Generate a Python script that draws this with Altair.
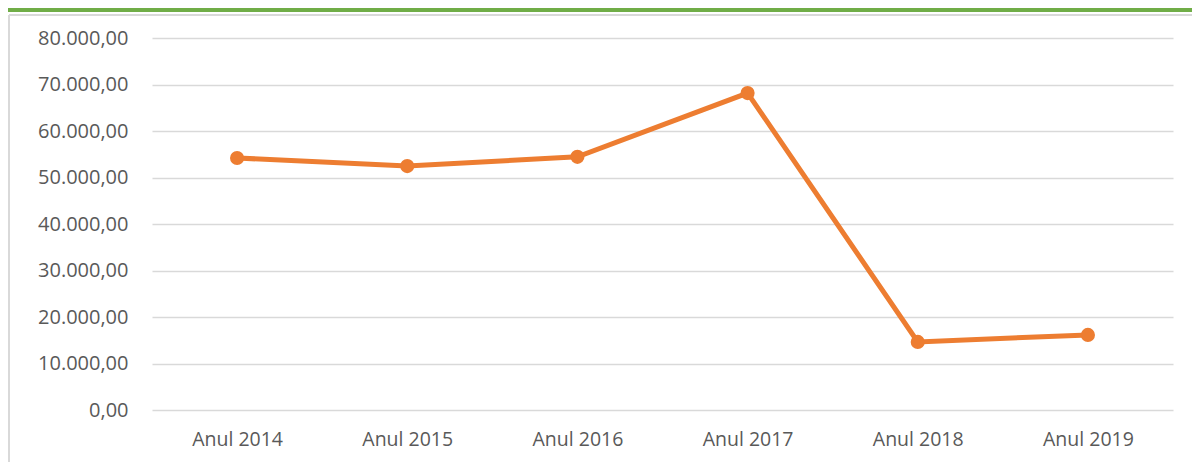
import altair as alt
import pandas as pd

years = ["Anul 2014", "Anul 2015", "Anul 2016", "Anul 2017", "Anul 2018", "Anul 2019"]
values = [54200, 52450, 54450, 68150, 14650, 16150]
y_ticks = [0, 10000, 20000, 30000, 40000, 50000, 60000, 70000, 80000]

df = pd.DataFrame({"an": years, "valoare": values})

FONT = "Open Sans"
LABEL_COLOR = "#595959"
ORANGE = "#ED7D31"

label_expr = ("replace(replace(replace(format(datum.value, ',.2f'), ',', '_'), '.', ','), '_', '.')")

base = alt.Chart(df).encode(
    x=alt.X("an:N", sort=years, title=None,
            scale=alt.Scale(type="point", padding=0.5),
            axis=alt.Axis(labelAngle=0, domain=False, ticks=False, grid=False,
                          labelPadding=20, labelFontSize=19.5, labelFont=FONT,
                          labelColor=LABEL_COLOR)),
    y=alt.Y("valoare:Q", title=None,
            scale=alt.Scale(domain=[0, 80000], nice=False),
            axis=alt.Axis(values=y_ticks, labelExpr=label_expr, domain=False, ticks=False,
                          grid=True, gridColor="#d9d9d9", gridWidth=1.5,
                          labelPadding=24, labelFontSize=20, labelFont=FONT,
                          labelColor=LABEL_COLOR)),
)

line = base.mark_line(color=ORANGE, strokeWidth=5)
points = base.mark_circle(color=ORANGE, size=200, opacity=1)

green = alt.Chart(df).mark_rule(color="#70AD47", strokeWidth=4).encode(
    x=alt.value(-150), x2=alt.value(1100), y=alt.value(-28))
frame_top = alt.Chart(df).mark_rule(color="#d9d9d9", strokeWidth=2).encode(
    x=alt.value(-143), x2=alt.value(1100), y=alt.value(-23))
frame_left = alt.Chart(df).mark_rule(color="#d9d9d9", strokeWidth=2).encode(
    x=alt.value(-143), y=alt.value(-23), y2=alt.value(500))

chart = alt.layer(green, frame_top, frame_left, line, points).properties(
    width=1021, height=372,
    autosize=alt.AutoSizeParams(type="none"),
    padding={"left": 144, "top": 30, "right": 19, "bottom": 52},
).configure_view(stroke=None)

chart.save("out.html", embed_options={"renderer": "svg", "actions": False})
